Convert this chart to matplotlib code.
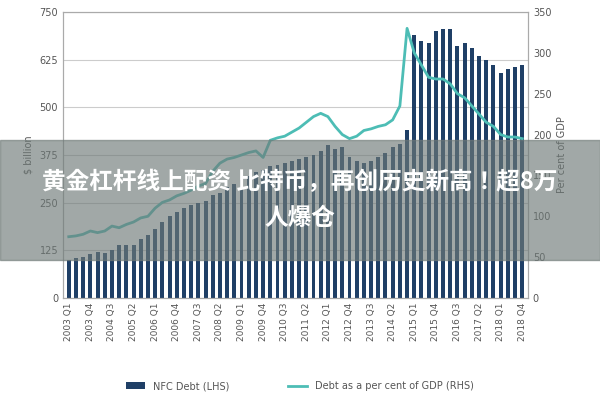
import matplotlib
matplotlib.use("Agg")
import matplotlib.pyplot as plt
from matplotlib.patches import Rectangle

plt.rcParams["font.family"] = ["DejaVu Sans", "Noto Sans CJK SC", "Noto Sans CJK JP",
                               "Noto Sans CJK TC", "Noto Sans CJK KR"]

years = list(range(2003, 2019))
quarters = [f"{y} Q{q}" for y in years for q in range(1, 5)]

nfc_debt = [100, 105, 108, 115, 120, 118, 125, 140, 140, 140, 155, 165,
            180, 200, 215, 225, 235, 245, 250, 255, 270, 275, 290, 300,
            310, 320, 330, 335, 345, 350, 355, 360, 365, 370, 375, 385,
            400, 390, 395, 370, 360, 355, 360, 370, 380, 395, 405, 440,
            690, 675, 670, 700, 705, 705, 660, 670, 655, 635, 625, 610,
            590, 600, 605, 610]
debt_gdp = [75, 76, 78, 82, 80, 82, 88, 86, 90, 93, 98, 100,
            110, 117, 120, 125, 128, 132, 137, 140, 155, 165, 170, 172,
            175, 178, 180, 172, 193, 196, 198, 203, 208, 215, 222, 226,
            222, 210, 200, 195, 198, 205, 207, 210, 212, 218, 235, 330,
            300, 285, 270, 268, 268, 262, 250, 245, 235, 225, 215, 210,
            200, 197, 197, 195]

banner = "黄金杠杆线上配资 比特币，再创历史新高！超8万\n人爆仓"

fig = plt.figure(figsize=(6, 4), dpi=100)
ax = fig.add_axes([0.105, 0.255, 0.775, 0.715])
x = list(range(len(quarters)))
ax.bar(x, nfc_debt, width=0.55, color="#1f3f66", label="NFC Debt (LHS)", zorder=2)
ax.set_ylim(0, 750)
ax.set_yticks(range(0, 751, 125))
ax.set_xlim(-0.8, len(quarters) - 0.2)
ax.grid(axis="y", color="#cccccc", linewidth=0.8, zorder=0)
ax.set_xticks(x[::3])
ax.set_xticklabels(quarters[::3], rotation=90, fontsize=6.5, color="#555555")
ax.tick_params(axis="y", labelsize=7, colors="#555555", length=0)
ax.tick_params(axis="x", length=0)
ax.set_ylabel("$ billion", fontsize=7, color="#555555")
for s in ax.spines.values():
    s.set_color("#aaaaaa")

ax2 = ax.twinx()
ax2.plot(x, debt_gdp, color="#4dbdb5", linewidth=2, label="Debt as a per cent of GDP (RHS)", zorder=3)
ax2.set_ylim(0, 350)
ax2.set_yticks(range(0, 351, 50))
ax2.tick_params(axis="y", labelsize=7, colors="#555555", length=0)
ax2.set_ylabel("Per cent of GDP", fontsize=7, color="#555555")
for s in ax2.spines.values():
    s.set_color("#aaaaaa")

h1, l1 = ax.get_legend_handles_labels()
h2, l2 = ax2.get_legend_handles_labels()
fig.legend(h1 + h2, l1 + l2, loc="lower center", ncol=2, frameon=False,
           fontsize=7, bbox_to_anchor=(0.5, 0.0), columnspacing=6,
           labelcolor="#555555")

fig.patches.append(Rectangle((0, 0.35), 1, 0.3, transform=fig.transFigure,
                             color="#6f7a78", alpha=0.65, zorder=10))
fig.text(0.5, 0.5, banner, ha="center", va="center", color="white",
         fontsize=17, fontweight="bold",
         family=["Noto Sans CJK SC", "Noto Sans CJK JP"],
         linespacing=1.6, zorder=11)

fig.savefig("out.png")
